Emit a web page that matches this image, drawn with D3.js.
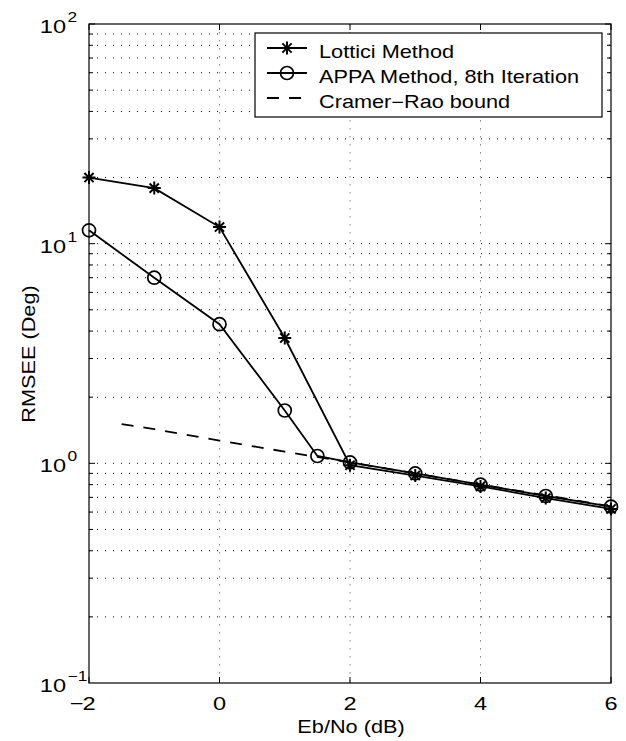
<!DOCTYPE html>
<html>
<head>
<meta charset="utf-8">
<script src="https://cdn.jsdelivr.net/npm/d3@7"></script>
<style>
  body { margin: 0; background: #fff; }
  text { font-family: "Liberation Sans", Arial, Helvetica, sans-serif; fill: #000; }
</style>
</head>
<body>
<svg id="chart" width="626" height="741"></svg>
<script>
// values
var ebno    = [-2, -1, 0, 1, 2, 3, 4, 5, 6];
var lottici = [20.0, 17.9, 11.9, 3.72, 0.98, 0.88, 0.785, 0.695, 0.62];
var appaX   = [-2, -1, 0, 1, 1.5, 2, 3, 4, 5, 6];
var appa    = [11.5, 7.0, 4.3, 1.74, 1.08, 1.01, 0.90, 0.80, 0.71, 0.635];
var crbX    = [-1.5, -1, 0, 1, 2, 3, 4, 5, 6];
var crb     = [1.51, 1.43, 1.27, 1.13, 1.01, 0.90, 0.80, 0.715, 0.637];
var xTicks  = [-2, 0, 2, 4, 6];
var yDecades = [-1, 0, 1, 2];
var legendNames = ["Lottici Method", "APPA Method, 8th Iteration", "Cramer\u2212Rao bound"];

var svg = d3.select("#chart");
// plot box (window.top is reserved, so no plain "top")
var pLeft = 89, pTop = 24, pRight = 611, pBottom = 683;
var SX = 1.24; // the original lettering is stretched sideways

var x = d3.scaleLinear().domain([-2, 6]).range([pLeft, pRight]);
var y = d3.scaleLog().domain([0.1, 100]).range([pBottom, pTop]);

function htext(str, px, py, size, anchor){
  return svg.append("text")
    .attr("transform", "translate(" + px + "," + py + ") scale(" + SX + ",1)")
    .attr("text-anchor", anchor || "start")
    .style("font-size", size + "px")
    .text(str);
}

// grid
var yGrid = [];
for (var e = -1; e < 2; e++) {
  for (var m = 1; m <= 9; m++) {
    var v = m * Math.pow(10, e);
    if (v > 0.1) yGrid.push(v);
  }
}
svg.append("g").selectAll("line").data(yGrid).enter().append("line")
  .attr("x1", pLeft).attr("x2", pRight)
  .attr("y1", function(d){ return y(d); }).attr("y2", function(d){ return y(d); })
  .attr("stroke", "#000").attr("stroke-width", 1)
  .attr("stroke-dasharray", "1,7");

svg.append("g").selectAll("line").data([0, 2, 4]).enter().append("line")
  .attr("x1", function(d){ return x(d); }).attr("x2", function(d){ return x(d); })
  .attr("y1", pTop).attr("y2", pBottom)
  .attr("stroke", "#888").attr("stroke-width", 1)
  .attr("stroke-dasharray", "1.5,6.5");

// ticks (inside, all four sides)
var ticks = svg.append("g").attr("stroke", "#000").attr("stroke-width", 1);
xTicks.forEach(function(d){
  ticks.append("line").attr("x1", x(d)).attr("x2", x(d)).attr("y1", pBottom).attr("y2", pBottom - 6);
  ticks.append("line").attr("x1", x(d)).attr("x2", x(d)).attr("y1", pTop).attr("y2", pTop + 6);
});
yGrid.concat([100]).forEach(function(d){
  var major = Math.abs(Math.log10(d) - Math.round(Math.log10(d))) < 1e-9;
  var len = major ? 6 : 4;
  ticks.append("line").attr("x1", pLeft).attr("x2", pLeft + len).attr("y1", y(d)).attr("y2", y(d));
  ticks.append("line").attr("x1", pRight).attr("x2", pRight - len).attr("y1", y(d)).attr("y2", y(d));
});

// frame
svg.append("rect")
  .attr("x", pLeft).attr("y", pTop)
  .attr("width", pRight - pLeft).attr("height", pBottom - pTop)
  .attr("fill", "none").attr("stroke", "#000").attr("stroke-width", 1.2);

// tick labels
xTicks.forEach(function(d){
  if (d < 0) {
    htext(String(-d), x(d), 710, 19, "middle");
    htext("\u2212", x(d) - 5.5, 710, 19, "end");
  } else {
    htext(String(d), x(d), 710, 19, "middle");
  }
});
yDecades.forEach(function(d){
  var ty = y(Math.pow(10, d));
  htext("10", 66, ty + 9, 19, "end");
  htext(d < 0 ? "\u2212" + (-d) : String(d), 67.5, ty - 2, 14, "start");
});

// axis titles
htext("Eb/No (dB)", 351, 733, 17.5, "middle");
svg.append("text")
  .attr("transform", "translate(35,354) rotate(-90) scale(" + SX + ",1)")
  .attr("text-anchor", "middle")
  .style("font-size", "17.5px")
  .text("RMSEE (Deg)");

// series
var line = d3.line()
  .x(function(d){ return x(d[0]); })
  .y(function(d){ return y(d[1]); });

var lotticiPts = d3.zip(ebno, lottici);
var appaPts = d3.zip(appaX, appa);
var crbPts = d3.zip(crbX, crb);

svg.append("path").datum(crbPts).attr("d", line)
  .attr("fill", "none").attr("stroke", "#000").attr("stroke-width", 1.8)
  .attr("stroke-dasharray", "12,10");
svg.append("path").datum(appaPts).attr("d", line)
  .attr("fill", "none").attr("stroke", "#000").attr("stroke-width", 1.8);
svg.append("path").datum(lotticiPts).attr("d", line)
  .attr("fill", "none").attr("stroke", "#000").attr("stroke-width", 1.8);

function starPath(r){
  var k = r * 0.7071;
  return "M" + (-r) + ",0L" + r + ",0M0," + (-r) + "L0," + r +
         "M" + (-k) + "," + (-k) + "L" + k + "," + k +
         "M" + (-k) + "," + k + "L" + k + "," + (-k);
}

svg.append("g").selectAll("circle").data(appaPts).enter().append("circle")
  .attr("cx", function(d){ return x(d[0]); })
  .attr("cy", function(d){ return y(d[1]); })
  .attr("r", 6.5)
  .attr("fill", "none").attr("stroke", "#000").attr("stroke-width", 1.7);

svg.append("g").selectAll("path").data(lotticiPts).enter().append("path")
  .attr("transform", function(d){ return "translate(" + x(d[0]) + "," + y(d[1]) + ")"; })
  .attr("d", starPath(6.5))
  .attr("fill", "none").attr("stroke", "#000").attr("stroke-width", 2);

// legend
var lg = svg.append("g");
lg.append("rect")
  .attr("x", 255).attr("y", 33).attr("width", 347).attr("height", 84)
  .attr("fill", "#fff").attr("stroke", "#000").attr("stroke-width", 1.2);
var rowY = [48, 73, 98];
legendNames.forEach(function(name, i){
  var ly = rowY[i];
  var l = lg.append("line")
    .attr("x1", 267).attr("x2", 307).attr("y1", ly).attr("y2", ly)
    .attr("stroke", "#000").attr("stroke-width", 1.8);
  if (i === 2) l.attr("stroke-dasharray", "12,10").attr("x2", 310);
  if (i === 0) {
    lg.append("path").attr("transform", "translate(287," + ly + ")")
      .attr("d", starPath(6.5)).attr("fill", "none").attr("stroke", "#000").attr("stroke-width", 2);
  }
  if (i === 1) {
    lg.append("circle").attr("cx", 287).attr("cy", ly).attr("r", 6.5)
      .attr("fill", "none").attr("stroke", "#000").attr("stroke-width", 1.7);
  }
  htext(name, 319, ly + 9.5, 17.5, "start");
});
</script>
</body>
</html>
